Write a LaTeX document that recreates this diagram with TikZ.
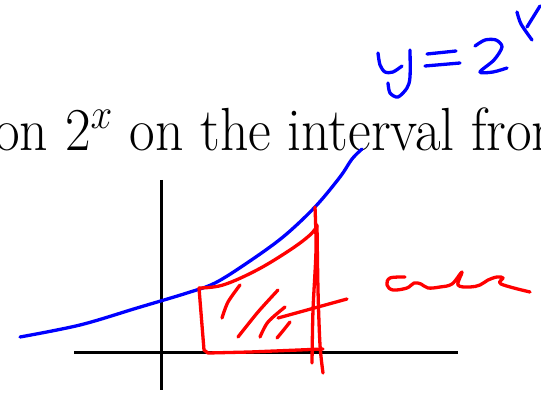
\RequirePackage{fix-cm}
\documentclass[tikz,border=0pt]{standalone}
\begin{document}
\begin{tikzpicture}[x=1pt,y=-1pt,
  ink/.style={line width=3.3pt,line cap=round,line join=round},
  blueink/.style={ink,draw=blue},
  redink/.style={ink,draw=red},
  axis/.style={line width=3pt,draw=black}]
\useasboundingbox (0,0) rectangle (541,393);
\clip (0,0) rectangle (541,393);
\node[anchor=base west,inner sep=0pt,yscale=1.05,xscale=0.96] (txt) at (-6,151)
  {\fontsize{58}{66}\selectfont on $2^x$ on the interval from};
% axes
\draw[axis] (161,180) -- (161,390);
\draw[axis] (74,352) -- (458,352);
% blue curve
\draw[blueink] plot[smooth,tension=0.55] coordinates {(20,337) (80,325) (137,308) (187,293) (215,283) (247,263) (283,237) (315,207) (340,177) (352,159) (362,149)};
% y = 2^x
\draw[blueink] plot[smooth] coordinates {(378,53) (380,65) (385,72) (393,72) (402,66)};
\draw[blueink] plot[smooth] coordinates {(410,50) (410,77) (407,88) (398,97) (390,93) (388,83)};
\draw[blueink] (427,54) -- (456,51);
\draw[blueink] (425,66) -- (460,63);
\draw[blueink] plot[smooth] coordinates {(475,46) (485,40) (496,40) (502,47) (494,60) (480,72) (493,72) (507,68)};
\draw[blueink] plot[smooth] coordinates {(517,12) (521,24) (532,40)};
\draw[blueink] (540,6) -- (527,27);
% red region
\draw[redink] plot[smooth,tension=0.6] coordinates {(199,288) (223,285) (257,270) (290,250) (310,235) (317,226)};
\draw[redink] (199,288) -- (204,350) -- (208,353) -- (250,352) -- (323,349);
\draw[redink] plot[smooth] coordinates {(315,207) (316,250) (313,310) (312,363)};
\draw[redink] plot[smooth] coordinates {(317,225) (318,290) (320,345) (323,373)};
\draw[redink] (278,318) -- (347,299);
\draw[redink] plot[smooth] coordinates {(240,285) (228,302) (222,318)};
\draw[redink] plot[smooth] coordinates {(278,290) (258,312) (238,337)};
\draw[redink] plot[smooth] coordinates {(285,307) (268,322) (260,337)};
\draw[redink] plot[smooth] coordinates {(290,322) (282,332) (277,338)};
% red "area"
\draw[redink] plot[smooth,tension=0.6] coordinates {(405,277) (390,278) (387,285) (393,290) (407,288) (414,283) (421,284) (428,288) (440,287) (452,284) (462,272) (458,285) (470,287) (480,285) (488,280) (497,277) (503,278) (501,284) (530,292)};
\end{tikzpicture}
\end{document}
